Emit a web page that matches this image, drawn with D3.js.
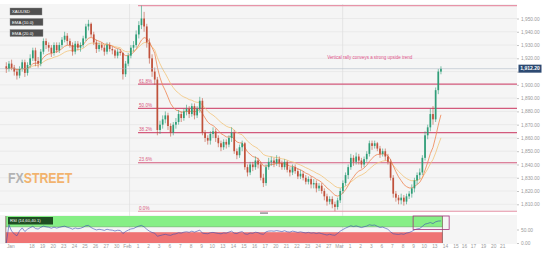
<!DOCTYPE html>
<html><head><meta charset="utf-8">
<script src="https://cdn.jsdelivr.net/npm/d3@7"></script>
<style>
html,body{margin:0;padding:0;background:#fff;}
svg{display:block;font-family:"Liberation Sans",Arial,sans-serif;}
</style></head><body>
<svg id="chart" width="545" height="262"></svg>
<script>
// XAU/USD, 4-hour candles, 16 Jan – 14 Mar
const firstOpen = 1914;
const closes = [
  1912,1916,1913,1910, 1907,1912,1917,1909, 1915,1920,1926,1918, 1916,1925,1933,1930,
  1928,1924,1930,1926, 1930,1934,1937,1933, 1930,1925,1931,1928, 1930,1935,1944,1946,
  1938,1932,1927,1930, 1928,1925,1930,1927, 1926,1922,1925,1924, 1908,1916,1922,1928,
  1930,1938,1945,1950, 1944,1932,1920,1910, 1904,1866,1870,1874, 1877,1869,1864,1870,
  1872,1878,1875,1880, 1882,1878,1884,1877, 1882,1888,1864,1860, 1858,1863,1865,1860,
  1856,1853,1857,1855, 1860,1864,1850,1847, 1853,1856,1838,1834, 1840,1838,1843,1840,
  1830,1826,1838,1842, 1843,1841,1844,1841, 1838,1842,1836,1834, 1838,1835,1831,1833,
  1830,1827,1829,1825, 1826,1822,1824,1820, 1816,1812,1814,1810, 1808,1813,1820,1826,
  1832,1838,1845,1842, 1846,1843,1840,1844, 1848,1856,1854,1856, 1852,1848,1850,1846,
  1842,1830,1818,1815, 1813,1815,1812,1816, 1818,1822,1828,1832, 1834,1845,1862,1868,
  1878,1874,1896,1910, 1912.2
];
const highs = [
  1917,1918,1919,1915, 1912,1914,1919,1919, 1917,1923,1928,1928, 1921,1927,1935,1935,
  1932,1930,1932,1932, 1932,1936,1940,1939, 1935,1932,1933,1933, 1932,1937,1946,1949,
  1947,1940,1934,1932, 1932,1930,1932,1932, 1929,1927,1927,1927, 1925,1918,1924,1930,
  1933,1941,1948,1959.7, 1955,1946,1935,1923, 1913,1906,1873,1877, 1880,1879,1871,1872,
  1875,1881,1880,1882, 1885,1884,1886,1886, 1884,1891,1890,1866, 1862,1865,1868,1867,
  1862,1858,1859,1859, 1862,1868,1866,1852, 1855,1858,1857,1840, 1842,1842,1846,1845,
  1842,1833,1840,1845, 1846,1845,1847,1846, 1843,1844,1843,1838, 1840,1840,1837,1836,
  1835,1832,1831,1831, 1829,1828,1826,1826, 1822,1818,1816,1816, 1812,1815,1822,1828,
  1834,1840,1848,1847, 1849,1848,1845,1846, 1850,1858,1858,1858, 1857,1854,1852,1852,
  1848,1844,1832,1820, 1817,1818,1817,1818, 1820,1825,1830,1834, 1837,1847,1865,1870,
  1882,1884,1898,1912, 1914
];
const lows = [
  1909,1910,1911,1907, 1904,1905,1910,1906, 1907,1913,1918,1914, 1913,1914,1923,1927,
  1925,1921,1922,1924, 1924,1928,1932,1930, 1928,1922,1923,1926, 1925,1928,1933,1941,
  1936,1930,1924,1925, 1926,1922,1923,1925, 1923,1920,1920,1922, 1904,1906,1914,1920,
  1925,1928,1935,1942, 1940,1928,1916,1906, 1900,1862,1863,1867, 1871,1866,1861,1862,
  1867,1870,1872,1873, 1877,1875,1876,1874, 1875,1879,1862,1857, 1855,1855,1860,1857,
  1853,1850,1851,1852, 1853,1857,1848,1844, 1845,1850,1836,1831, 1832,1835,1836,1837,
  1828,1823,1824,1836, 1839,1838,1839,1838, 1836,1836,1834,1831, 1832,1833,1829,1829,
  1828,1825,1825,1822, 1822,1819,1820,1818, 1813,1809,1810,1807, 1804.8,1806,1811,1818,
  1824,1829,1836,1839, 1840,1840,1837,1838, 1842,1846,1851,1852, 1850,1845,1846,1843,
  1840,1828,1815,1812, 1810,1810,1809,1810, 1814,1815,1819,1825, 1829,1832,1843,1859,
  1865,1870,1872,1893, 1908
];
const candlesPerDay = 4;

// date axis: labels and their trading-day slot
const dateLabels = ["Jan","18","19","20","23","24","25","26","27","30","Feb","1","2","3","6","7","8","9","10",
  "13","14","15","16","17","20","21","22","23","24","27","Mar","1","2","3","6","7","8","9","10","13","14",
  "15","16","17","19","20","21"];
const dateSlots = [0,2,3,4,5,6,7,8,9,10,11,12,13,14,15,16,17,18,19,20,21,22,23,24,25,26,27,28,29,30,31,
  32,33,34,35,36,37,38,39,40,41,42,42.8,43.65,44.6,45.55,46.4];
const monthSlots = [11.25,31.35];

const priceTicks = [1810,1820,1830,1840,1850,1860,1870,1880,1890,1900,1910,1920,1930,1940,1950];
const rsiTicks = [0,50];

const fibHigh = 1959.7, fibLow = 1804.8, fibStartSlot = 12.05;
const fibRatios = [0, 0.236, 0.382, 0.5, 0.618, 1];
const fibLabels = ["0.0%","23.6%","38.2%","50.0%","61.8%",""];

const lastPrice = 1912.2;
const note = "Vertical rally conveys  a strong upside trend";
const noteSlot = 33.9, notePrice = 1919.5;
const rsiBox = {x0: 38.0, x1: 41.4, v0: 50, v1: 100};
const rsiUpper = 60, rsiLower = 40;

// ---- layout
const svg = d3.select("#chart");
const plotL = 0, plotR = 517, mainT = 4, mainB = 212, rsiT = 215, rsiB = 244;

const x = d3.scaleLinear().domain([-0.97, 47.8]).range([plotL, plotR]);
const y = d3.scaleLinear().domain([1810, 1950]).range([204.3, 18.5]);
const yr = d3.scaleLinear().domain([0, 100]).range([243, 216]);
const candleX = i => x(i / candlesPerDay - 0.375);

// backgrounds
svg.append("rect").attr("x", plotL).attr("y", mainT).attr("width", plotR - plotL).attr("height", mainB - mainT).attr("fill", "#f5f5f5");
svg.append("rect").attr("x", plotL).attr("y", rsiT).attr("width", plotR - plotL).attr("height", rsiB - rsiT).attr("fill", "#f5f5f5");

// horizontal grid
svg.append("g").selectAll("line").data(priceTicks).join("line")
  .attr("x1", plotL).attr("x2", plotR).attr("y1", d => y(d)).attr("y2", d => y(d))
  .attr("stroke", "#e3e3e3").attr("stroke-width", 0.6);

// month separators
svg.append("g").selectAll("line").data(monthSlots).join("line")
  .attr("x1", d => x(d)).attr("x2", d => x(d)).attr("y1", mainT).attr("y2", rsiB + 4)
  .attr("stroke", "#e0e0e0").attr("stroke-width", 0.7);

// watermark: one text, two coloured runs, squeezed horizontally
const wm = svg.append("g").attr("transform", "translate(8,183) scale(0.88,1)")
  .append("text").attr("font-size", 14).attr("font-weight", "bold");
wm.append("tspan").attr("fill", "#b3b3b3").text("FX");
wm.append("tspan").attr("fill", "#f2b36e").text("STREET");

// Fibonacci retracement levels
const fib = fibRatios.map((r, i) => ({r, price: fibLow + r * (fibHigh - fibLow), label: fibLabels[i]}));
const gf = svg.append("g");
gf.selectAll("line").data(fib).join("line")
  .attr("x1", x(fibStartSlot)).attr("x2", plotR)
  .attr("y1", d => y(d.price)).attr("y2", d => y(d.price))
  .attr("stroke", d => (d.r === 0 || d.r === 1) ? "#e794a8" : "#d35a7c")
  .attr("stroke-width", 1.1);
gf.selectAll("text").data(fib.filter(d => d.label)).join("text")
  .attr("x", x(fibStartSlot) + 1).attr("y", d => y(d.price) - 1.6)
  .attr("font-size", 4.6).attr("fill", "#d9587e").text(d => d.label);

// EMAs
function ema(vals, n) {
  const k = 2 / (n + 1); let e = vals[0];
  return vals.map((v, i) => i === 0 ? e : (e = v * k + e * (1 - k)));
}
const ema10 = ema(closes, 10), ema20 = ema(closes, 20);
const line = d3.line().x((d, i) => candleX(i)).y(d => y(d));
svg.append("path").attr("d", line(ema20)).attr("fill", "none").attr("stroke", "#f2c47a").attr("stroke-width", 0.8);
svg.append("path").attr("d", line(ema10)).attr("fill", "none").attr("stroke", "#ef8450").attr("stroke-width", 0.8);

// candles
const opens = closes.map((c, i) => i === 0 ? firstOpen : closes[i - 1]);
const candles = closes.map((c, i) => ({i, o: opens[i], h: highs[i], l: lows[i], c}));
const up = "#2f9e78", down = "#c0513b";
const gc = svg.append("g");
gc.selectAll("line").data(candles).join("line")
  .attr("x1", d => candleX(d.i)).attr("x2", d => candleX(d.i))
  .attr("y1", d => y(d.h)).attr("y2", d => y(d.l))
  .attr("stroke", d => d.c >= d.o ? up : down).attr("stroke-width", 0.6);
gc.selectAll("rect").data(candles).join("rect")
  .attr("x", d => candleX(d.i) - 0.85).attr("width", 1.7)
  .attr("y", d => y(Math.max(d.o, d.c)))
  .attr("height", d => Math.max(0.6, Math.abs(y(d.o) - y(d.c))))
  .attr("fill", d => d.c >= d.o ? up : down);

// last price line
svg.append("line").attr("x1", plotL).attr("x2", plotR).attr("y1", y(lastPrice)).attr("y2", y(lastPrice))
  .attr("stroke", "#a9b3c0").attr("stroke-width", 0.5);

// annotation
svg.append("text").attr("x", x(noteSlot)).attr("y", y(notePrice)).attr("text-anchor", "middle")
  .attr("font-size", 6).attr("fill", "#e0548a").attr("textLength", 85).attr("lengthAdjust", "spacingAndGlyphs")
  .text(note);

// legend
const legend = [{t: "XAUUSD", y: 8}, {t: "EMA (10.0)", y: 18.5}, {t: "EMA (20.0)", y: 29.5}];
const gl = svg.append("g");
gl.selectAll("rect").data(legend).join("rect")
  .attr("x", 10).attr("y", d => d.y).attr("width", d => d.t === "XAUUSD" ? 32 : 33).attr("height", 7)
  .attr("fill", "#505050").attr("stroke", "#8a8a8a").attr("stroke-width", 0.4);
gl.selectAll("text").data(legend).join("text")
  .attr("x", 12).attr("y", d => d.y + 5).attr("font-size", 4.3).attr("fill", "#fff").text(d => d.t);

// pane handle
svg.append("rect").attr("x", 260).attr("y", 212.3).attr("width", 8).attr("height", 1.6).attr("fill", "#9a9a9a");

// y axis (the label under the last-price tag stays hidden)
const tagY = y(lastPrice);
const yAxis = svg.append("g").attr("transform", `translate(${plotR},0)`)
  .call(d3.axisRight(y).tickValues(priceTicks).tickFormat(d3.format(",.2f")).tickSize(2).tickPadding(2));
yAxis.select(".domain").remove();
yAxis.selectAll("line").attr("stroke", "#c4c4c4");
yAxis.selectAll("text").attr("font-size", 4.8).attr("fill", "#9a9a9a").attr("font-family", "Liberation Sans, Arial, sans-serif");
yAxis.selectAll(".tick").filter(d => Math.abs(y(d) - tagY) < 6).select("text").remove();

// price tag
svg.append("rect").attr("x", plotR + 1.5).attr("y", tagY - 4).attr("width", 23).attr("height", 8).attr("fill", "#2d4a72");
svg.append("text").attr("x", plotR + 13).attr("y", tagY + 1.8).attr("text-anchor", "middle")
  .attr("font-size", 5).attr("font-weight", "bold").attr("fill", "#fff").text(d3.format(",.2f")(lastPrice));

// ---- RSI pane
function rsi(vals, n) {
  let ag = 0, al = 0; const out = [];
  for (let i = 1; i < vals.length; i++) {
    const ch = vals[i] - vals[i - 1], g = Math.max(ch, 0), l = Math.max(-ch, 0);
    if (i <= n) { ag += (g - ag) / i; al += (l - al) / i; }
    else { ag = (ag * (n - 1) + g) / n; al = (al * (n - 1) + l) / n; }
    out.push({i, v: al === 0 ? 100 : 100 - 100 / (1 + ag / al)});
  }
  return out;
}
const rsiVals = rsi([firstOpen].concat(closes), 14).map(d => ({i: d.i - 1, v: d.v}));
const bandX0 = candleX(0) - 0.5, bandX1 = candleX(closes.length - 1) + 1.5;
svg.append("rect").attr("x", bandX0).attr("y", yr(100)).attr("width", bandX1 - bandX0).attr("height", yr(rsiUpper) - yr(100)).attr("fill", "#86ef86");
svg.append("rect").attr("x", bandX0).attr("y", yr(rsiLower)).attr("width", bandX1 - bandX0).attr("height", yr(0) - yr(rsiLower)).attr("fill", "#ef7474");
svg.append("line").attr("x1", bandX0).attr("x2", bandX1).attr("y1", yr(rsiUpper)).attr("y2", yr(rsiUpper)).attr("stroke", "#5a9a5a").attr("stroke-width", 0.5);
[bandX0, bandX1].forEach(bx => svg.append("line").attr("x1", bx).attr("x2", bx).attr("y1", yr(100)).attr("y2", yr(0)).attr("stroke", "#6a3a3a").attr("stroke-width", 0.6));

svg.append("path").attr("d", d3.line().x(d => candleX(d.i)).y(d => yr(d.v))(rsiVals))
  .attr("fill", "none").attr("stroke", "#3a4db3").attr("stroke-width", 0.6);

svg.append("rect").attr("x", x(rsiBox.x0)).attr("y", yr(rsiBox.v1)).attr("width", x(rsiBox.x1) - x(rsiBox.x0))
  .attr("height", yr(rsiBox.v0) - yr(rsiBox.v1)).attr("fill", "none").attr("stroke", "#a3327a").attr("stroke-width", 0.8);

svg.append("rect").attr("x", 8).attr("y", 217).attr("width", 45).attr("height", 7.5).attr("fill", "#1f4d22");
svg.append("text").attr("x", 10).attr("y", 222.3).attr("font-size", 4.2).attr("fill", "#fff").text("RSI (14,60,40.1)");

const rAxis = svg.append("g").attr("transform", `translate(${plotR},0)`)
  .call(d3.axisRight(yr).tickValues(rsiTicks).tickFormat(d3.format(".2f")).tickSize(2).tickPadding(2));
rAxis.select(".domain").remove();
rAxis.selectAll("line").attr("stroke", "#c4c4c4");
rAxis.selectAll("text").attr("font-size", 4.8).attr("fill", "#9a9a9a").attr("font-family", "Liberation Sans, Arial, sans-serif");

// x axis
const xAxis = svg.append("g").attr("transform", `translate(0,${rsiB - 1})`)
  .call(d3.axisBottom(x).tickValues(dateSlots).tickFormat((d, i) => dateLabels[i]).tickSize(0).tickPadding(2));
xAxis.select(".domain").remove();
xAxis.selectAll("text").attr("font-size", 4.8).attr("fill", "#9a9a9a").attr("font-family", "Liberation Sans, Arial, sans-serif");
</script>
</body></html>
